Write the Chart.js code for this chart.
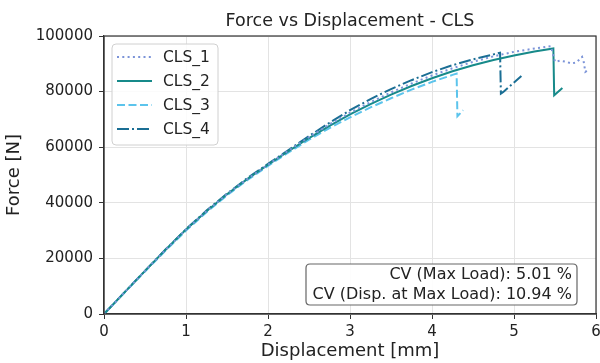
<!DOCTYPE html>
<html>
<head>
<meta charset="utf-8">
<script src="https://cdn.jsdelivr.net/npm/chart.js@4.4.1/dist/chart.umd.min.js"></script>
<style>
  html, body { margin: 0; padding: 0; background: #fff; }
  #wrap { width: 600px; height: 363px; }
</style>
</head>
<body>
<div id="wrap"><canvas id="forceChart" width="600" height="363"></canvas></div>
<script>
const seriesNames = ['CLS_1', 'CLS_2', 'CLS_3', 'CLS_4'];

// displacement [mm] / force [N] per specimen
const cls1Disp = [0, 0.25, 0.5, 0.75, 1.0, 1.25, 1.5, 1.75, 2.0, 2.25, 2.5, 2.75, 3.0, 3.25, 3.5, 3.75, 4.0, 4.25, 4.5, 4.75, 5.0, 5.25, 5.45, 5.5, 5.56, 5.64, 5.7, 5.76, 5.8, 5.83, 5.85, 5.86, 5.87, 5.89];
const cls1Force = [0, 7800, 15500, 23100, 30400, 37000, 43100, 48600, 53700, 58800, 63600, 68200, 72400, 76200, 79700, 82900, 85800, 88400, 90700, 92700, 94300, 95500, 96300, 90700, 91100, 90700, 90100, 90500, 91600, 92500, 90700, 88900, 87100, 87500];

const cls2Disp = [0, 0.25, 0.5, 0.75, 1.0, 1.25, 1.5, 1.75, 2.0, 2.25, 2.5, 2.75, 3.0, 3.25, 3.5, 3.75, 4.0, 4.25, 4.5, 4.75, 5.0, 5.25, 5.48, 5.49, 5.59];
const cls2Force = [0, 7800, 15500, 23100, 30400, 37000, 43100, 48600, 53700, 58600, 63300, 67700, 71800, 75500, 78900, 82000, 84800, 87300, 89500, 91400, 93000, 94400, 95500, 78700, 81300];

const cls3Disp = [0, 0.25, 0.5, 0.75, 1.0, 1.25, 1.5, 1.75, 2.0, 2.25, 2.5, 2.75, 3.0, 3.25, 3.5, 3.75, 4.0, 4.25, 4.3, 4.31, 4.38];
const cls3Force = [0, 7700, 15300, 22800, 30000, 36600, 42700, 48200, 53300, 58100, 62700, 66900, 70700, 74300, 77600, 80700, 83500, 86000, 86500, 71100, 73300];

const cls4Disp = [0, 0.25, 0.5, 0.75, 1.0, 1.25, 1.5, 1.75, 2.0, 2.25, 2.5, 2.75, 3.0, 3.25, 3.5, 3.75, 4.0, 4.25, 4.5, 4.75, 4.83, 4.84, 4.87, 5.09];
const cls4Force = [0, 7800, 15500, 23200, 30500, 37200, 43300, 48900, 54000, 59000, 64000, 68800, 73300, 77300, 80900, 84100, 87000, 89500, 91600, 93400, 94000, 79300, 79900, 85600];

const xTicks = [0, 1, 2, 3, 4, 5, 6];
const yTicks = [0, 20000, 40000, 60000, 80000, 100000];

const chartTitle = 'Force vs Displacement - CLS';
const cvLines = ['CV (Max Load): 5.01 %', 'CV (Disp. at Max Load): 10.94 %'];

const colors = ['#7b93d8', '#178a8a', '#5cc4ec', '#1a6e94'];
const dashes = [[2, 3.3], [], [8, 3.5], [12, 3, 2, 3]];

const FONT = '"DejaVu Sans", sans-serif';

function pairs(xs, ys) {
    return xs.map((x, i) => ({ x, y: ys[i] }));
}

const curves = [
    pairs(cls1Disp, cls1Force),
    pairs(cls2Disp, cls2Force),
    pairs(cls3Disp, cls3Force),
    pairs(cls4Disp, cls4Force)
];

// title centred over the plot area rather than the whole canvas
const plotTitle = {
    id: 'plotTitle',
    afterDraw(chart) {
        const { ctx, chartArea: a } = chart;
        ctx.save();
        ctx.font = '17.5px ' + FONT;
        ctx.fillStyle = '#222';
        ctx.textAlign = 'center';
        ctx.textBaseline = 'middle';
        ctx.fillText(chartTitle, (a.left + a.right) / 2, 21);
        ctx.restore();
    }
};

// frame on all four sides, matplotlib style
const framePlugin = {
    id: 'frame',
    afterDatasetsDraw(chart) {
        const { ctx, chartArea: a } = chart;
        ctx.save();
        ctx.strokeStyle = '#333';
        ctx.lineWidth = 1.2;
        ctx.strokeRect(a.left, a.top, a.right - a.left, a.bottom - a.top);
        ctx.restore();
    }
};

function roundBox(ctx, x, y, w, h, r) {
    ctx.beginPath();
    ctx.moveTo(x + r, y);
    ctx.lineTo(x + w - r, y);
    ctx.quadraticCurveTo(x + w, y, x + w, y + r);
    ctx.lineTo(x + w, y + h - r);
    ctx.quadraticCurveTo(x + w, y + h, x + w - r, y + h);
    ctx.lineTo(x + r, y + h);
    ctx.quadraticCurveTo(x, y + h, x, y + h - r);
    ctx.lineTo(x, y + r);
    ctx.quadraticCurveTo(x, y, x + r, y);
    ctx.closePath();
}

// legend inside the plot, upper left
const insideLegend = {
    id: 'insideLegend',
    afterDraw(chart) {
        const { ctx, chartArea: a } = chart;
        const bx = a.left + 8, by = a.top + 8, bw = 106, bh = 101;
        ctx.save();
        roundBox(ctx, bx, by, bw, bh, 4);
        ctx.fillStyle = 'rgba(255,255,255,0.85)';
        ctx.fill();
        ctx.strokeStyle = '#d0d0d0';
        ctx.lineWidth = 1;
        ctx.stroke();
        ctx.font = '15.5px ' + FONT;
        ctx.textBaseline = 'middle';
        seriesNames.forEach((name, i) => {
            const y = by + 13 + i * 24;
            ctx.beginPath();
            ctx.setLineDash(dashes[i]);
            ctx.strokeStyle = colors[i];
            ctx.lineWidth = 2;
            ctx.moveTo(bx + 5, y);
            ctx.lineTo(bx + 40, y);
            ctx.stroke();
            ctx.setLineDash([]);
            ctx.fillStyle = '#222';
            ctx.fillText(name, bx + 51, y + 1);
        });
        ctx.restore();
    }
};

// coefficient of variation box, lower right
const cvBox = {
    id: 'cvBox',
    afterDraw(chart) {
        const { ctx } = chart;
        const bx = 306, by = 264, bw = 271, bh = 41;
        ctx.save();
        roundBox(ctx, bx, by, bw, bh, 4);
        ctx.fillStyle = 'rgba(255,255,255,0.9)';
        ctx.fill();
        ctx.strokeStyle = '#666';
        ctx.lineWidth = 1.2;
        ctx.stroke();
        ctx.font = '16px ' + FONT;
        ctx.fillStyle = '#222';
        ctx.textAlign = 'right';
        ctx.textBaseline = 'middle';
        cvLines.forEach((t, i) => ctx.fillText(t, bx + bw - 5, by + 11 + i * 20));
        ctx.restore();
    }
};

new Chart(document.getElementById('forceChart'), {
    type: 'line',
    data: {
        datasets: curves.map((pts, i) => ({
            label: seriesNames[i],
            data: pts,
            borderColor: colors[i],
            backgroundColor: colors[i],
            borderDash: dashes[i],
            borderWidth: 2,
            pointRadius: 0,
            tension: 0,
            fill: false
        }))
    },
    options: {
        responsive: false,
        animation: false,
        layout: { padding: { left: 0, right: 0, top: 36, bottom: 0 } },
        plugins: {
            legend: { display: false },
            tooltip: { enabled: false },
            title: { display: false }
        },
        scales: {
            x: {
                type: 'linear',
                min: xTicks[0],
                max: xTicks[xTicks.length - 1],
                afterBuildTicks: s => { s.ticks = xTicks.map(v => ({ value: v })); },
                // last tick label may run to the canvas edge
                afterFit: s => { s.height = 49; s.paddingRight = 4; },
                grid: { color: '#e3e3e3', tickColor: '#333', tickLength: 5 },
                border: { color: '#333', width: 1.2 },
                ticks: {
                    color: '#222',
                    padding: 4,
                    maxRotation: 0,
                    font: { family: FONT, size: 15 },
                    callback: v => String(v)
                },
                title: {
                    display: true,
                    text: 'Displacement [mm]',
                    color: '#222',
                    font: { family: FONT, size: 18 },
                    padding: { top: 0, bottom: 1 }
                }
            },
            y: {
                min: yTicks[0],
                max: yTicks[yTicks.length - 1],
                afterBuildTicks: s => { s.ticks = yTicks.map(v => ({ value: v })); },
                afterFit: s => { s.width = 104; },
                grid: { color: '#e3e3e3', tickColor: '#333', tickLength: 5 },
                border: { color: '#333', width: 1.2 },
                ticks: {
                    color: '#222',
                    padding: 6,
                    font: { family: FONT, size: 15 },
                    callback: v => String(v)
                },
                title: {
                    display: true,
                    text: 'Force [N]',
                    color: '#222',
                    font: { family: FONT, size: 18 },
                    padding: { top: 4, bottom: 0 }
                }
            }
        }
    },
    plugins: [framePlugin, insideLegend, cvBox, plotTitle]
});
</script>
</body>
</html>
